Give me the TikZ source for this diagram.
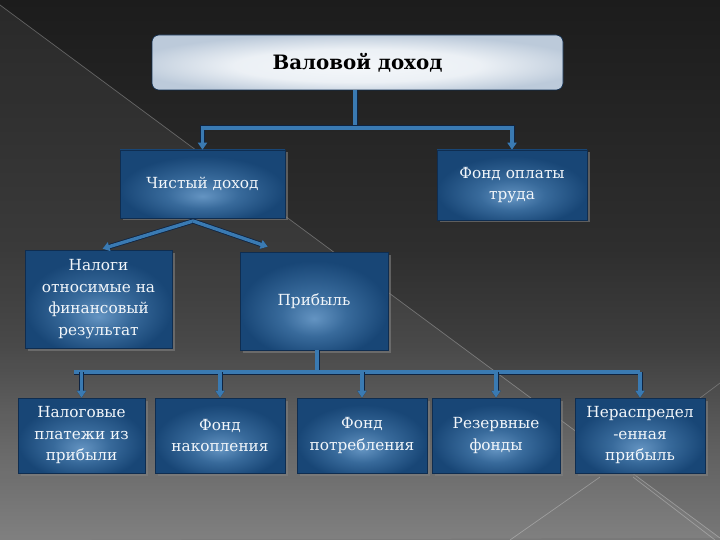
\documentclass[tikz,border=0pt]{standalone}
\usepackage{fontspec}
\setmainfont{DejaVu Serif}
\usetikzlibrary{shadows,arrows.meta,calc}
\definecolor{bgA}{HTML}{787878}
\definecolor{bgB}{HTML}{5E5E5E}
\definecolor{bgC}{HTML}{3E3E3E}
\definecolor{bgM}{HTML}{2E2E2E}
\definecolor{bgD}{HTML}{1C1C1C}
\definecolor{boxlight}{HTML}{6494C2}
\definecolor{boxmid}{HTML}{386A9B}
\definecolor{boxdark}{HTML}{184676}
\definecolor{toplight}{HTML}{F4F7FA}
\definecolor{topdark}{HTML}{BCCADA}
\definecolor{connblue}{HTML}{3A7AB2}
\definecolor{connedge}{HTML}{0E2442}
\definecolor{boxedge}{HTML}{0F2D50}
\definecolor{txtwhite}{HTML}{F2F6FA}
\pgfdeclareverticalshading{bgshade}{100bp}{color(0bp)=(bgA); color(25bp)=(bgA); color(34bp)=(bgB); color(43bp)=(bgC); color(52bp)=(bgM); color(75bp)=(bgD); color(100bp)=(bgD)}
\pgfdeclareradialshading{boxshade}{\pgfpoint{0bp}{-9bp}}{color(0bp)=(boxlight); color(11bp)=(boxmid); color(25bp)=(boxdark); color(50bp)=(boxdark)}
\pgfdeclareradialshading{topshade}{\pgfpoint{0bp}{-4bp}}{color(0bp)=(toplight); color(15bp)=(toplight!85!topdark); color(28bp)=(topdark); color(50bp)=(topdark)}
\tikzset{
  bluebox/.style={shading=boxshade, draw=boxedge, line width=0.6pt,
    drop shadow={opacity=0.6, shadow xshift=2.5pt, shadow yshift=-2.5pt},
    text=txtwhite, align=center, font=\fontsize{15.3}{21.5}\selectfont,
    inner sep=2pt},
  conn/.style={draw=connblue, line width=3.4pt,
    preaction={draw=connedge, line width=5pt}},
  arr/.style={-{Triangle[length=7pt,width=9pt]}}
}
\begin{document}
\begin{tikzpicture}[x=1pt,y=-1pt]
\useasboundingbox (0,0) rectangle (720,540);
% background
\shade[shading=bgshade] (0,0) rectangle (720,540);
\fill[white,opacity=0.06] (0,5) -- (720,538) -- (0,540) -- cycle;
\draw[white,opacity=0.28,line width=0.7pt] (0,5) -- (720,538);
\draw[white,opacity=0.28,line width=0.7pt] (510,540) -- (600,477);
\draw[white,opacity=0.28,line width=0.7pt] (633,477) -- (715,540);
\draw[white,opacity=0.22,line width=0.7pt] (700,398) -- (720,383);

% nodes
\node[shading=topshade, draw=boxedge, line width=0.6pt, rounded corners=7pt,
  minimum width=411pt, minimum height=55pt,
  font=\bfseries\fontsize{19.8}{22}\selectfont, text=black] (vd) at (357.5,62.5) {Валовой доход};
\node[bluebox, minimum width=165pt, minimum height=68pt] (chd) at (202.5,184) {Чистый доход};
\node[bluebox, minimum width=150pt, minimum height=70pt] (fot) at (512,185) {Фонд оплаты\\труда};
\node[bluebox, minimum width=147pt, minimum height=98pt] (nal) at (98.5,299) {Налоги\\относимые на\\финансовый\\результат};
\node[bluebox, minimum width=148pt, minimum height=98pt] (pr) at (314,301) {Прибыль};
\node[bluebox, minimum width=127pt, minimum height=75pt] (b1) at (81.5,435.5) {Налоговые\\платежи из\\прибыли};
\node[bluebox, minimum width=130pt, minimum height=75pt] (b2) at (220,435.5) {Фонд\\накопления};
\node[bluebox, minimum width=130pt, minimum height=75pt] (b3) at (362,435.5) {Фонд\\потребления};
\node[bluebox, minimum width=128pt, minimum height=75pt] (b4) at (496,435.5) {Резервные\\фонды};
\node[bluebox, minimum width=130pt, minimum height=75pt] (b5) at (640,435.5) {Нераспредел\\-енная\\прибыль};

% connectors level 1
\coordinate (j1) at (355,128);
\draw[conn] (vd.south -| j1) -- (j1);
\draw[conn,arr] (j1) -| (chd.north);
\draw[conn,arr] (j1) -| (fot.north);

% connectors level 2
\coordinate (j2) at (193,221);
\coordinate (prend) at ($(pr.north west)+(28,-5)$);
\coordinate (nalend) at ($(nal.north)+(4,-1)$);
\draw[conn,arr] (j2) -- (nalend);
\draw[conn,arr] (j2) -- (prend);

% connectors level 3
\coordinate (j3) at (317,372);
\coordinate (j3l) at (74,372);
\coordinate (j3r) at (640,372);
\draw[conn] (pr.south -| j3) -- (j3);
\draw[conn] (j3l) -- (j3r);
\foreach \b in {b1,b2,b3,b4,b5}{
  \draw[conn,arr] (j3l -| \b.north) -- (\b.north);
}
\end{tikzpicture}
\end{document}
